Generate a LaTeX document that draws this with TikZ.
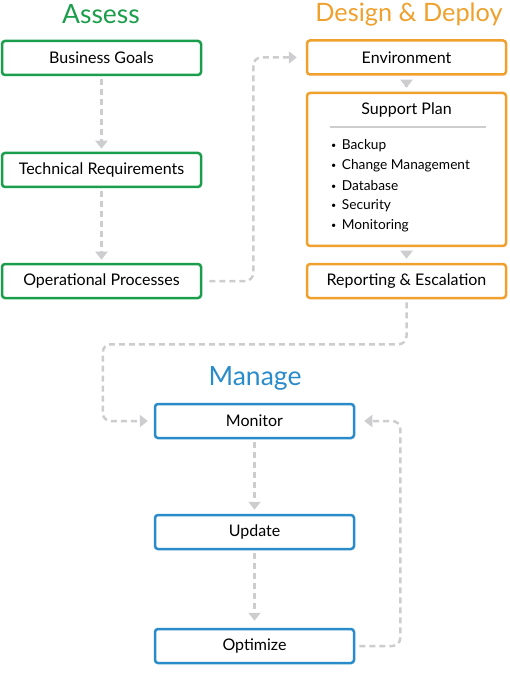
\documentclass[tikz,border=0pt]{standalone}
\usepackage{fontspec}
\setmainfont{Lato}
\usetikzlibrary{arrows.meta}

\definecolor{assessgreen}{HTML}{1B9E4B}
\definecolor{deployorange}{HTML}{EFA02D}
\definecolor{manageblue}{HTML}{2A8BCB}
\definecolor{linkgray}{HTML}{CDCDCF}

\begin{document}
\begin{tikzpicture}[x=1pt,y=-1pt,
	box/.style={draw,line width=2.5pt,rounded corners=3pt,minimum width=199pt,minimum height=34pt,inner sep=0pt,font=\fontsize{16}{19}\selectfont},
	heading/.style={font=\fontsize{26.5}{30}\selectfont},
	item/.style={anchor=west,inner sep=0pt,font=\fontsize{13.7}{16}\selectfont},
	flow/.style={draw=linkgray,line width=2.5pt,dash pattern=on 6pt off 4pt,rounded corners=8pt,-{Triangle[width=12pt,length=8pt]}}]
	\useasboundingbox (0,0) rectangle (509,700);
	%headings
	\node[heading,text=assessgreen] (assess) at (101,14) {Assess};
	\node[heading,text=deployorange,font=\fontsize{25.3}{30}\selectfont] (deploy) at (409,14) {Design \& Deploy};
	\node[heading,text=manageblue] (manage) at (255,378) {Manage};
	%assess boxes
	\node[box,draw=assessgreen] (goals) at (101.5,58) {Business Goals};
	\node[box,draw=assessgreen] (tech) at (101.5,170) {Technical Requirements};
	\node[box,draw=assessgreen] (ops) at (101.5,281) {Operational Processes};
	%design and deploy boxes
	\node[box,draw=deployorange] (env) at (406.5,57.5) {Environment};
	\node[box,draw=deployorange,minimum height=153pt] (plan) at (406.5,169.5) {};
	\node[box,draw=deployorange] (report) at (406.5,281) {Reporting \& Escalation};
	%support plan content
	\node[font=\fontsize{16}{19}\selectfont] (plan title) at (406.5,110) {Support Plan};
	\draw[linkgray,line width=1.2pt] (330,127) -- (486,127);
	\foreach \y/\t in {146/Backup,166/Change Management,186/Database,206/Security,226/Monitoring}
	\node[item] (plan \y) at (331,\y) {\raisebox{1.3pt}{\fontsize{9}{9}\selectfont\textbullet}\hspace{5.5pt}\t};
	%manage boxes
	\node[box,draw=manageblue] (mon) at (254.5,421) {Monitor};
	\node[box,draw=manageblue] (upd) at (254.5,532) {Update};
	\node[box,draw=manageblue] (opt) at (254.5,646) {Optimize};
	%connectors
	\draw[flow,shorten <=3pt,shorten >=3pt] (goals) -- (tech);
	\draw[flow,shorten <=3pt,shorten >=3pt] (tech) -- (ops);
	\draw[flow,shorten <=7pt,shorten >=9pt] (ops.east) -- ++(51,0) |- (env.west);
	\draw[flow,shorten <=11pt,shorten >=4pt] (env) -- (plan);
	\draw[flow,shorten <=5pt,shorten >=4pt] (plan) -- (report);
	\draw[flow,shorten <=3pt,shorten >=6pt] (report.south) -- ++(0,45) -| ([xshift=-51pt]mon.west) -- (mon.west);
	\draw[flow,shorten <=3pt,shorten >=4pt] (mon) -- (upd);
	\draw[flow,shorten <=3pt,shorten >=7pt] (upd) -- (opt);
	\draw[flow,shorten <=4pt,shorten >=9pt] (opt.east) -- ++(45,0) |- (mon.east);
\end{tikzpicture}
\end{document}
